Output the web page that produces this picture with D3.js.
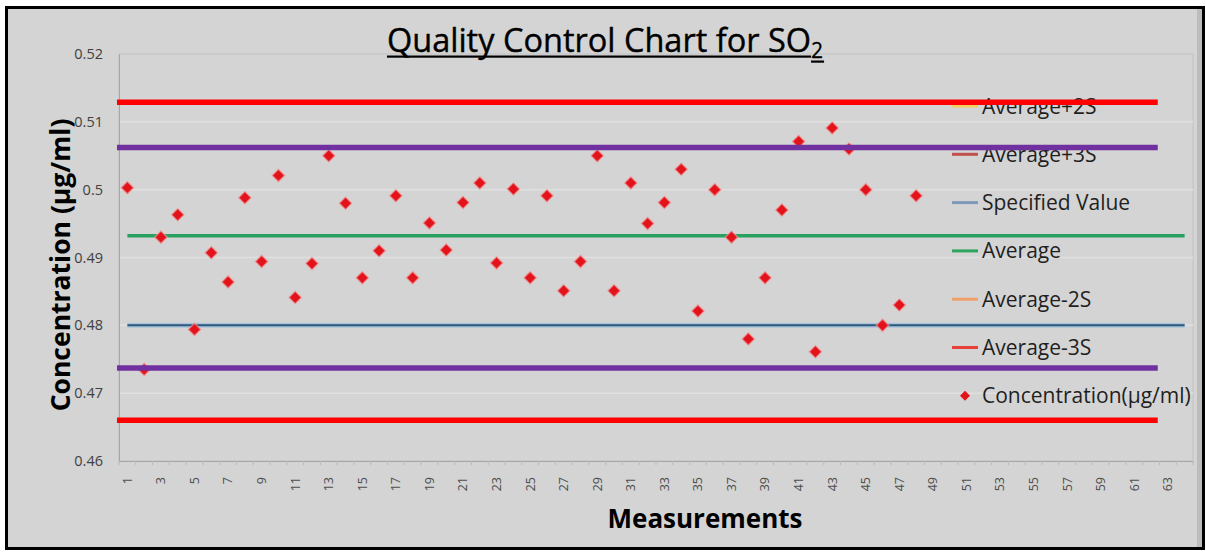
<!DOCTYPE html>
<html>
<head>
<meta charset="utf-8">
<script src="https://cdn.jsdelivr.net/npm/d3@7"></script>
<style>
  body { margin: 0; background: #fff; }
  svg { display: block; font-family: "Open Sans", sans-serif; }
</style>
</head>
<body>
<div id="chart"></div>
<script>
const width = 1206;
const height = 553;

// categories on the x axis (measurement number)
const categories = [1, 2, 3, 4, 5, 6, 7, 8, 9, 10, 11, 12, 13, 14, 15, 16,
  17, 18, 19, 20, 21, 22, 23, 24, 25, 26, 27, 28, 29, 30, 31, 32,
  33, 34, 35, 36, 37, 38, 39, 40, 41, 42, 43, 44, 45, 46, 47, 48,
  49, 50, 51, 52, 53, 54, 55, 56, 57, 58, 59, 60, 61, 62, 63, 64];
const xTickLabels = ["1", "3", "5", "7", "9", "11", "13", "15", "17", "19", "21",
  "23", "25", "27", "29", "31", "33", "35", "37", "39", "41", "43", "45", "47",
  "49", "51", "53", "55", "57", "59", "61", "63"];

const yTicks = [0.46, 0.47, 0.48, 0.49, 0.5, 0.51, 0.52];
const yTickLabels = ["0.46", "0.47", "0.48", "0.49", "0.5", "0.51", "0.52"];

// Concentration (µg/ml), measurements 1..48
const concentration = [
  0.5003, 0.4735, 0.4930, 0.4963, 0.4794, 0.4907, 0.4864, 0.4988, 0.4894, 0.5021,
  0.4841, 0.4891, 0.5050, 0.4980, 0.4870, 0.4910, 0.4991, 0.4870, 0.4951, 0.4911,
  0.4981, 0.5010, 0.4892, 0.5001, 0.4870, 0.4991, 0.4851, 0.4894, 0.5050, 0.4851,
  0.5010, 0.4950, 0.4981, 0.5030, 0.4821, 0.5000, 0.4930, 0.4780, 0.4870, 0.4970,
  0.5071, 0.4761, 0.5091, 0.5060, 0.5000, 0.4800, 0.4830, 0.4991
];

const average = 0.4932;
const specifiedValue = 0.48;
// thick limit lines drawn over the chart
const warningLimits = [0.5062, 0.4737];   // purple
const actionLimits = [0.5129, 0.4660];    // red

const legendNames = ["Average+2S", "Average+3S", "Specified Value", "Average",
  "Average-2S", "Average-3S", "Concentration(µg/ml)"];
const legendColors = ["#f2cf5b", "#c0504d", "#7f98b8", "#2ea35e",
  "#f2a06a", "#e8403a", "#e3131b"];

const plot = { left: 119, right: 1193, top: 54, bottom: 461 };

let svg = d3.select("#chart")
            .append("svg")
            .attr("width", width)
            .attr("height", height);

// chart frame
svg.append("rect")
   .attr("x", 6.5).attr("y", 7.5)
   .attr("width", 1197).attr("height", 541)
   .attr("fill", "#d4d4d4")
   .attr("stroke", "#000")
   .attr("stroke-width", 3);
svg.append("rect")
   .attr("x", 1197).attr("y", 9)
   .attr("width", 5).attr("height", 538)
   .attr("fill", "#bcbcbc");

let x = d3.scaleBand()
          .domain(categories)
          .range([plot.left, plot.right]);
let xLin = d3.scaleLinear()
             .domain([0.5, categories.length + 0.5])
             .range([plot.left, plot.right]);
let y = d3.scaleLinear()
          .domain([0.46, 0.52])
          .range([plot.bottom, plot.top]);

const cx = c => x(c) + x.bandwidth() / 2;

// plot area border + grid
svg.append("rect")
   .attr("x", plot.left).attr("y", plot.top)
   .attr("width", plot.right - plot.left).attr("height", plot.bottom - plot.top)
   .attr("fill", "none")
   .attr("stroke", "#c2c2c2");

svg.append("g")
   .selectAll("line")
   .data(yTicks.slice(1, -1))
   .enter()
   .append("line")
   .attr("x1", plot.left).attr("x2", plot.right)
   .attr("y1", d => y(d)).attr("y2", d => y(d))
   .attr("stroke", "#e0e0e0")
   .attr("stroke-width", 1.5);

// y axis
let yAxis = svg.append("g")
               .attr("transform", `translate(${plot.left},0)`)
               .call(d3.axisLeft(y).tickValues(yTicks).tickSize(0).tickPadding(16)
                       .tickFormat((d, i) => yTickLabels[i]));
yAxis.select(".domain").attr("stroke", "#a6a6a6");
yAxis.selectAll("text")
     .attr("font-size", 14.5)
     .attr("fill", "#404040")
     .attr("font-family", "Open Sans");

// x axis
let xAxis = svg.append("g")
               .attr("transform", `translate(0,${plot.bottom})`)
               .call(d3.axisBottom(x).tickValues(categories.filter(c => xTickLabels.includes(String(c))))
                       .tickSize(0).tickFormat(""));
xAxis.select(".domain").attr("stroke", "#a6a6a6");

svg.append("g")
   .selectAll("line")
   .data(d3.range(categories.length + 1))
   .enter()
   .append("line")
   .attr("x1", i => xLin(i + 0.5)).attr("x2", i => xLin(i + 0.5))
   .attr("y1", plot.bottom).attr("y2", plot.bottom + 4)
   .attr("stroke", "#bababa");

svg.append("g")
   .selectAll("text")
   .data(xTickLabels)
   .enter()
   .append("text")
   .attr("transform", d => `translate(${cx(+d)},${plot.bottom + 16}) rotate(-90)`)
   .attr("text-anchor", "end")
   .attr("dy", "0.35em")
   .attr("font-size", 12.5)
   .attr("fill", "#4d4d4d")
   .text(d => d);

// average and specified value lines
const lineSpan = [categories[0], categories[categories.length - 1]];
svg.append("line")
   .attr("x1", cx(lineSpan[0])).attr("x2", cx(lineSpan[1]))
   .attr("y1", y(specifiedValue)).attr("y2", y(specifiedValue))
   .attr("stroke", "#a9c3dc").attr("stroke-width", 5);
svg.append("line")
   .attr("x1", cx(lineSpan[0])).attr("x2", cx(lineSpan[1]))
   .attr("y1", y(specifiedValue)).attr("y2", y(specifiedValue))
   .attr("stroke", "#2f5779").attr("stroke-width", 2);
svg.append("line")
   .attr("x1", cx(lineSpan[0])).attr("x2", cx(lineSpan[1]))
   .attr("y1", y(average)).attr("y2", y(average))
   .attr("stroke", "#27a060").attr("stroke-width", 3.5);

// points
svg.append("g")
   .selectAll("path")
   .data(concentration)
   .enter()
   .append("path")
   .attr("d", d3.symbol(d3.symbolSquare, 78))
   .attr("transform", (d, i) => `translate(${cx(categories[i])},${y(d)}) rotate(45)`)
   .attr("fill", "#e3131b")
   .attr("stroke", "#f0a0a0")
   .attr("stroke-opacity", 0.6)
   .attr("stroke-width", 1.5);

// legend
const legendTop = 106;
const legendStep = 48.3;
let legend = svg.append("g");
legendNames.forEach((name, i) => {
  const ly = legendTop + i * legendStep;
  if (i < legendNames.length - 1) {
    legend.append("line")
          .attr("x1", 952).attr("x2", 978)
          .attr("y1", ly).attr("y2", ly)
          .attr("stroke", legendColors[i])
          .attr("stroke-width", 3);
  } else {
    legend.append("path")
          .attr("d", d3.symbol(d3.symbolSquare, 50))
          .attr("transform", `translate(965,${ly}) rotate(45)`)
          .attr("fill", legendColors[i]);
  }
  legend.append("text")
        .attr("x", 982).attr("y", ly)
        .attr("dy", "0.36em")
        .attr("font-size", 21)
        .attr("fill", "#1f1f1f")
        .text(name);
});

// thick limit lines on top
const overlaySpan = [0.38, 62.4];
svg.append("g")
   .selectAll("line")
   .data(warningLimits)
   .enter()
   .append("line")
   .attr("x1", xLin(overlaySpan[0])).attr("x2", xLin(overlaySpan[1]))
   .attr("y1", d => y(d)).attr("y2", d => y(d))
   .attr("stroke", "#7030a0").attr("stroke-width", 5.5);
svg.append("g")
   .selectAll("line")
   .data(actionLimits)
   .enter()
   .append("line")
   .attr("x1", xLin(overlaySpan[0])).attr("x2", xLin(overlaySpan[1]))
   .attr("y1", d => y(d)).attr("y2", d => y(d))
   .attr("stroke", "#ff0000").attr("stroke-width", 5.5);

// title with subscript and underline
let title = svg.append("g");
let mainText = title.append("text")
                    .attr("x", 0).attr("y", 52)
                    .attr("font-size", 32.5)
                    .attr("fill", "#000")
                    .attr("stroke", "#000")
                    .attr("stroke-width", 0.4)
                    .text("Quality Control Chart for SO");
const mainW = mainText.node().getComputedTextLength();
let subText = title.append("text")
                   .attr("x", mainW).attr("y", 58)
                   .attr("font-size", 21)
                   .attr("fill", "#000")
                   .attr("stroke", "#000")
                   .attr("stroke-width", 0.3)
                   .text("2");
const subW = subText.node().getComputedTextLength();
title.append("rect").attr("x", 0).attr("y", 55.5).attr("width", mainW).attr("height", 2.2).attr("fill", "#000");
title.append("rect").attr("x", mainW).attr("y", 60.5).attr("width", subW + 1).attr("height", 2.2).attr("fill", "#000");
title.attr("transform", `translate(${605 - (mainW + subW) / 2},0)`);

// axis titles
svg.append("text")
   .attr("transform", "translate(70,265) rotate(-90)")
   .attr("text-anchor", "middle")
   .attr("font-size", 26.5)
   .attr("font-weight", "bold")
   .attr("fill", "#000")
   .text("Concentration (µg/ml)");

svg.append("text")
   .attr("x", 705).attr("y", 528)
   .attr("text-anchor", "middle")
   .attr("font-size", 26)
   .attr("font-weight", "bold")
   .attr("fill", "#000")
   .text("Measurements");
</script>
</body>
</html>
